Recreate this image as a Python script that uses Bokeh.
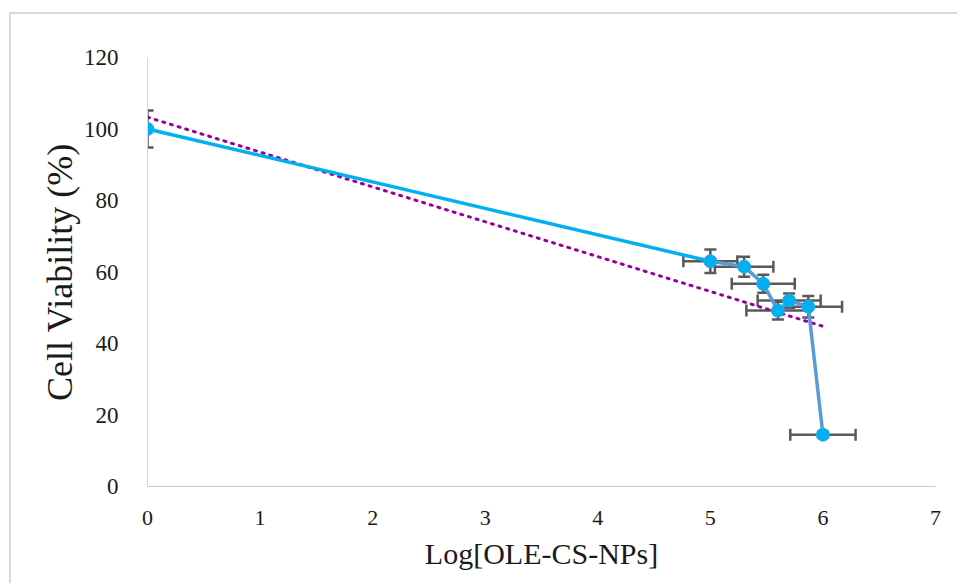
from bokeh.plotting import figure
from bokeh.models import Range1d, Whisker, ColumnDataSource, FixedTicker, TeeHead, InlineStyleSheet
from bokeh.embed import file_html
from bokeh.resources import INLINE

# ---- data ----
log_conc = [0.0, 5.00, 5.30, 5.47, 5.60, 5.70, 5.87, 6.00]
viability = [100.0, 63.0, 61.5, 56.7, 49.2, 52.0, 50.3, 14.5]
y_err = [5.2, 3.3, 2.8, 2.5, 2.5, 2.0, 3.0, 0.8]
x_err = [0.0, 0.24, 0.26, 0.28, 0.28, 0.28, 0.30, 0.29]
trend_x = [0.0, 6.0]
trend_y = [103.3, 44.8]
x_ticks = [0, 1, 2, 3, 4, 5, 6, 7]
y_ticks = [0, 20, 40, 60, 80, 100, 120]

p = figure(width=957, height=583, output_backend="svg", toolbar_location=None,
           x_range=Range1d(0, 7), y_range=Range1d(0, 120),
           min_border_left=147, min_border_right=22, min_border_top=57, min_border_bottom=97,
           background_fill_color="white", border_fill_color="white")
p.outline_line_color = None
p.grid.visible = False

# outer chart border (light grey, left and top edges visible in the window)
p.stylesheets = [InlineStyleSheet(css="""
:host { position: relative; }
:host::after {
  content: "";
  position: absolute;
  left: 9px; top: 12px; width: 2000px; height: 2000px;
  border-left: 2px solid #d9d9d9;
  border-top: 2px solid #d9d9d9;
  pointer-events: none;
}
""")]

# axes styling
p.xaxis.ticker = FixedTicker(ticks=x_ticks)
p.yaxis.ticker = FixedTicker(ticks=y_ticks)
for ax in (p.xaxis[0], p.yaxis[0]):
    ax.major_tick_line_color = None
    ax.minor_tick_line_color = None
    ax.major_label_text_font = "Liberation Serif"
    ax.major_label_text_color = "#1a1a1a"
    ax.axis_label_text_font = "Liberation Serif"
    ax.axis_label_text_font_style = "normal"
    ax.axis_label_text_color = "#1a1a1a"
p.xaxis.axis_line_color = "#c8c8c8"
p.yaxis.axis_line_color = "#d9d9d9"
p.xaxis.major_label_text_font_size = "22px"
p.yaxis.major_label_text_font_size = "23px"
p.xaxis.major_label_standoff = 18
p.yaxis.major_label_standoff = 23
p.xaxis.axis_label = "Log[OLE-CS-NPs]"
p.yaxis.axis_label = "Cell Viability (%)"
p.xaxis.axis_label_text_font_size = "30px"
p.yaxis.axis_label_text_font_size = "36px"
p.xaxis.axis_label_standoff = 9
p.yaxis.axis_label_standoff = 1

# trend line (dotted purple)
p.line(trend_x, trend_y, line_color="#990099", line_width=3, line_dash="2 6", line_cap="round")

# main series line
p.line(log_conc[:2], viability[:2], line_color="#00b0f0", line_width=3.5)
p.line(log_conc[1:], viability[1:], line_color="#5b9bd5", line_width=3.5)

# error bars
ebc = "#595959"
src_v = ColumnDataSource(dict(x=log_conc,
                              lo=[v - e for v, e in zip(viability, y_err)],
                              hi=[v + e for v, e in zip(viability, y_err)]))
wv = Whisker(source=src_v, base="x", lower="lo", upper="hi", dimension="height",
             line_color=ebc, line_width=2.5,
             upper_head=TeeHead(size=12, line_color=ebc, line_width=2.5),
             lower_head=TeeHead(size=12, line_color=ebc, line_width=2.5))
p.add_layout(wv)

hx = [x for x, e in zip(log_conc, x_err) if e > 0]
hy = [y for y, e in zip(viability, x_err) if e > 0]
he = [e for e in x_err if e > 0]
src_h = ColumnDataSource(dict(y=hy,
                              lo=[x - e for x, e in zip(hx, he)],
                              hi=[x + e for x, e in zip(hx, he)]))
wh = Whisker(source=src_h, base="y", lower="lo", upper="hi", dimension="width",
             line_color=ebc, line_width=2.5,
             upper_head=TeeHead(size=12, line_color=ebc, line_width=2.5),
             lower_head=TeeHead(size=12, line_color=ebc, line_width=2.5))
p.add_layout(wh)

# markers
p.scatter(log_conc, viability, size=13, fill_color="#00b0f0", line_color="#2aa6e6", line_width=1)

open("out.html", "w").write(file_html(p, INLINE))
